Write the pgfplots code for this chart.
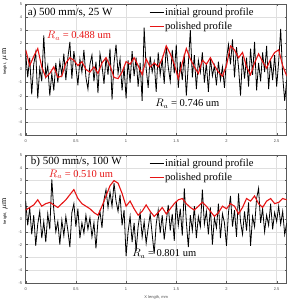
\documentclass[border=0pt]{standalone}
\usepackage{fontspec}
\setmainfont{Liberation Serif}
\newfontfamily\ticksans{Liberation Sans}
\usepackage{pgfplots}
\pgfplotsset{compat=1.18}

\definecolor{profred}{RGB}{230,20,20}

\pgfplotsset{
  profile/.style={
    scale only axis,
    width=261pt,
    xmin=0, xmax=2.6,
    ymin=-5, ymax=5,
    xtick={0,0.5,1,1.5,2,2.5},
    ytick={-5,-4,-3,-2,-1,0,1,2,3,4,5},
    grid=major,
    major grid style={gray!25, line width=0.4pt},
    axis line style={gray!70!black, line width=0.5pt},
    tick style={gray!70!black, line width=0.3pt},
    major tick length=2pt,
    /pgf/number format/assume math mode=true,
    ticklabel style={font=\ticksans\fontsize{4}{5}\selectfont, text=gray!60!black},
    xticklabel style={yshift=-1pt},
    ylabel={{\ticksans\fontsize{4}{5}\selectfont height,}\ {\fontsize{8}{9}\selectfont$\mu$m}},
    ylabel style={at={(axis description cs:-0.079,0.56)}, anchor=center},
    legend style={draw=none, fill=none, font=\fontsize{10.6}{11.5}\selectfont,
      at={(axis description cs:0.468,0.995)}, anchor=north west,
      row sep=1pt, inner sep=1pt,
      nodes={inner xsep=1pt}},
    legend image code/.code={\draw[#1] (0pt,0pt) -- (14pt,0pt);},
    legend cell align=left,
  },
  ground/.style={black, line width=0.8pt},
  polished/.style={profred, line width=1.1pt},
}

\begin{document}
\begin{tikzpicture}
\useasboundingbox (-25.7pt,-171pt) rectangle (262.3pt,135pt);

% (a) 500 mm/s, 25 W
\begin{axis}[profile, height=131pt, at={(0,0)}, anchor=south west]
\addlegendimage{ground}
\addlegendentry{initial ground profile}
\addlegendimage{polished}
\addlegendentry{polished profile}
\addplot[ground, forget plot] table {
0.00 1.2
0.02 -0.6
0.04 0.9
0.06 -1.9
0.08 0.4
0.10 1.3
0.12 -2.2
0.14 0.1
0.16 -0.9
0.18 2.6
0.20 -0.5
0.22 0.3
0.24 -2.0
0.26 -0.3
0.28 -1.6
0.30 0.5
0.32 -1.0
0.34 0.6
0.36 -0.4
0.38 1.2
0.40 -0.8
0.42 0.9
0.44 2.1
0.46 -0.7
0.48 1.4
0.50 0.2
0.52 -1.2
0.54 0.8
0.56 -0.2
0.58 1.5
0.60 -0.6
0.62 -1.5
0.64 0.4
0.66 1.1
0.68 -0.9
0.70 0.6
0.72 -1.8
0.74 1.2
0.76 0.3
0.78 -1.1
0.80 0.9
0.82 -0.4
0.84 1.6
0.86 -2.3
0.88 0.5
0.90 1.9
0.92 -0.3
0.94 0.8
0.96 -1.6
0.98 0.2
1.00 -2.2
1.02 0.7
1.04 -1.0
1.06 1.4
1.08 -0.5
1.10 0.9
1.12 -1.3
1.14 0.5
1.16 -2.4
1.18 3.2
1.20 0.1
1.22 -1.4
1.24 1.0
1.26 -0.2
1.28 0.6
1.30 -1.7
1.32 1.3
1.34 -0.4
1.36 0.8
1.38 -1.1
1.40 1.8
1.42 0.2
1.44 -0.9
1.46 1.5
1.48 -0.3
1.50 1.9
1.52 -1.4
1.54 0.6
1.56 -0.8
1.58 1.2
1.60 -2.0
1.62 0.4
1.64 3.0
1.66 -0.6
1.68 1.1
1.70 -1.5
1.72 0.7
1.74 -0.2
1.76 1.3
1.78 -1.0
1.80 0.5
1.82 -1.7
1.84 0.9
1.86 -0.5
1.88 0.3
1.90 -1.2
1.92 0.6
1.94 -0.8
1.96 0.2
1.98 -1.4
2.00 0.8
2.02 1.9
2.04 0.4
2.06 2.3
2.08 -0.6
2.10 1.7
2.12 0.2
2.14 -2.0
2.16 1.0
2.18 -0.7
2.20 0.9
2.22 -1.3
2.24 1.6
2.26 -0.4
2.28 2.1
2.30 -1.6
2.32 0.5
2.34 -0.9
2.36 1.3
2.38 -0.2
2.40 1.8
2.42 -1.5
2.44 0.7
2.46 -0.8
2.48 1.1
2.50 -1.3
2.52 0.6
2.54 3.1
2.56 -0.5
2.58 -2.4
2.60 -0.8
};
\addplot[polished, forget plot] table {
0.00 1.5
0.04 0.3
0.08 1.0
0.12 1.6
0.16 0.2
0.20 -0.6
0.24 -0.3
0.28 0.2
0.32 -0.6
0.36 -0.5
0.40 0.5
0.44 0.9
0.48 0.7
0.52 0.3
0.56 0.6
0.60 0.0
0.64 -0.2
0.68 0.2
0.72 -0.3
0.76 0.5
0.80 0.9
0.84 0.3
0.88 -0.6
0.92 -0.7
0.96 -0.2
1.00 0.6
1.04 0.4
1.08 0.9
1.12 0.3
1.16 -0.4
1.20 0.8
1.24 0.2
1.28 0.5
1.32 0.2
1.36 0.8
1.40 1.8
1.44 1.2
1.48 0.4
1.52 -0.7
1.56 0.5
1.60 1.6
1.64 0.8
1.68 0.2
1.72 -0.3
1.76 0.7
1.80 0.4
1.84 0.9
1.88 0.3
1.92 -0.2
1.96 -0.5
2.00 0.3
2.04 1.8
2.08 1.5
2.12 0.9
2.16 1.3
2.20 0.2
2.24 -0.4
2.28 0.5
2.32 1.2
2.36 0.6
2.40 0.1
2.44 0.8
2.48 1.3
2.52 1.5
2.56 0.3
2.60 -0.5
};
\node[anchor=west, font=\fontsize{11}{13}\selectfont, inner sep=0pt] at (axis cs:0.02,4.3) {a) 500 mm/s, 25 W};
\node[anchor=west, font=\fontsize{10.5}{12}\selectfont, text=profred, inner sep=0pt] at (axis cs:0.21,2.6) {$R_a$ = 0.488 um};
\node[anchor=west, font=\fontsize{10.5}{12}\selectfont, inner sep=0pt] at (axis cs:1.29,-2.6) {$R_a$ = 0.746 um};
\end{axis}

% (b) 500 mm/s, 100 W
\begin{axis}[profile, height=128pt, at={(0,-20pt)}, anchor=north west,
  xlabel={X length, mm},
  xlabel style={font=\ticksans\fontsize{4}{5}\selectfont, text=gray!60!black, yshift=2pt}]
\addlegendimage{ground}
\addlegendentry{initial ground profile}
\addlegendimage{polished}
\addlegendentry{polished profile}
\addplot[ground, forget plot] table {
0.00 1.4
0.02 -0.5
0.04 0.9
0.06 -1.2
0.08 0.3
0.10 -2.1
0.12 -0.4
0.14 0.6
0.16 -1.5
0.18 -0.2
0.20 -1.8
0.22 0.4
0.24 -0.8
0.26 3.1
0.28 0.7
0.30 -1.0
0.32 -0.2
0.34 -2.0
0.36 -0.1
0.38 -1.3
0.40 0.2
0.42 -0.9
0.44 -2.2
0.46 0.5
0.48 1.2
0.50 -0.6
0.52 0.8
0.54 -1.5
0.56 -0.3
0.58 -1.1
0.60 0.3
0.62 -0.8
0.64 0.1
0.66 -1.4
0.68 -0.3
0.70 -2.3
0.72 -0.1
0.74 0.6
0.76 -0.7
0.78 1.5
0.80 2.3
0.82 0.9
0.84 2.1
0.86 1.0
0.88 2.8
0.90 1.4
0.92 0.6
0.94 1.9
0.96 -0.5
0.98 0.7
1.00 -2.9
1.02 -1.0
1.04 0.2
1.06 -1.8
1.08 -0.3
1.10 -2.5
1.12 -0.6
1.14 0.5
1.16 -1.4
1.18 -0.2
1.20 -1.9
1.22 -0.7
1.24 0.4
1.26 -1.2
1.28 -2.7
1.30 -0.4
1.32 0.7
1.34 -1.1
1.36 0.3
1.38 -1.6
1.40 -0.2
1.42 1.1
1.44 -0.9
1.46 0.4
1.48 -1.7
1.50 1.4
1.52 -0.5
1.54 0.8
1.56 -1.3
1.58 2.4
1.60 -0.2
1.62 -2.2
1.64 0.3
1.66 -0.9
1.68 1.0
1.70 -1.5
1.72 0.2
1.74 -0.6
1.76 2.3
1.78 -0.4
1.80 0.6
1.82 -1.2
1.84 0.9
1.86 -2.0
1.88 0.1
1.90 -0.7
1.92 1.2
1.94 -1.5
1.96 0.4
1.98 -0.3
2.00 -2.1
2.02 0.5
2.04 1.8
2.06 -0.6
2.08 0.7
2.10 -1.4
2.12 2.0
2.14 -0.2
2.16 -1.2
2.18 0.6
2.20 -0.9
2.22 1.3
2.24 -2.1
2.26 0.2
2.28 -0.6
2.30 1.6
2.32 2.4
2.34 -0.3
2.36 0.8
2.38 -1.0
2.40 0.3
2.42 -0.5
2.44 1.2
2.46 -0.8
2.48 0.5
2.50 -0.2
2.52 1.0
2.54 -0.4
2.56 0.6
2.58 -1.2
2.60 -0.3
};
\addplot[polished, forget plot] table {
0.00 0.7
0.04 0.9
0.08 1.1
0.12 1.5
0.16 1.0
0.20 1.2
0.24 1.3
0.28 1.1
0.32 0.9
0.36 1.2
0.40 1.5
0.44 1.9
0.48 2.3
0.52 1.6
0.56 1.2
0.60 1.0
0.64 0.8
0.68 0.5
0.72 0.3
0.76 1.0
0.80 1.8
0.84 2.6
0.88 3.0
0.92 2.8
0.96 2.0
1.00 1.0
1.04 1.4
1.08 0.8
1.12 0.3
1.16 0.6
1.20 1.1
1.24 0.6
1.28 0.2
1.32 0.5
1.36 0.9
1.40 0.4
1.44 0.8
1.48 1.2
1.52 1.5
1.56 1.6
1.60 1.2
1.64 0.9
1.68 0.7
1.72 1.0
1.76 1.3
1.80 1.0
1.84 0.6
1.88 0.2
1.92 0.5
1.96 1.0
2.00 0.8
2.04 1.2
2.08 1.0
2.12 0.4
2.16 0.9
2.20 1.6
2.24 1.4
2.28 1.8
2.32 1.2
2.36 0.9
2.40 1.4
2.44 1.6
2.48 1.2
2.52 1.3
2.56 1.6
2.60 1.5
};
\node[anchor=west, font=\fontsize{11}{13}\selectfont, inner sep=0pt] at (axis cs:0.05,4.5) {b) 500 mm/s, 100 W};
\node[anchor=west, font=\fontsize{10.5}{12}\selectfont, text=profred, inner sep=0pt] at (axis cs:0.23,3.5) {$R_a$ = 0.510 um};
\node[anchor=west, font=\fontsize{10.5}{12}\selectfont, inner sep=0pt] at (axis cs:1.06,-2.7) {$R_a$ = 0.801 um};
\end{axis}
\end{tikzpicture}
\end{document}
